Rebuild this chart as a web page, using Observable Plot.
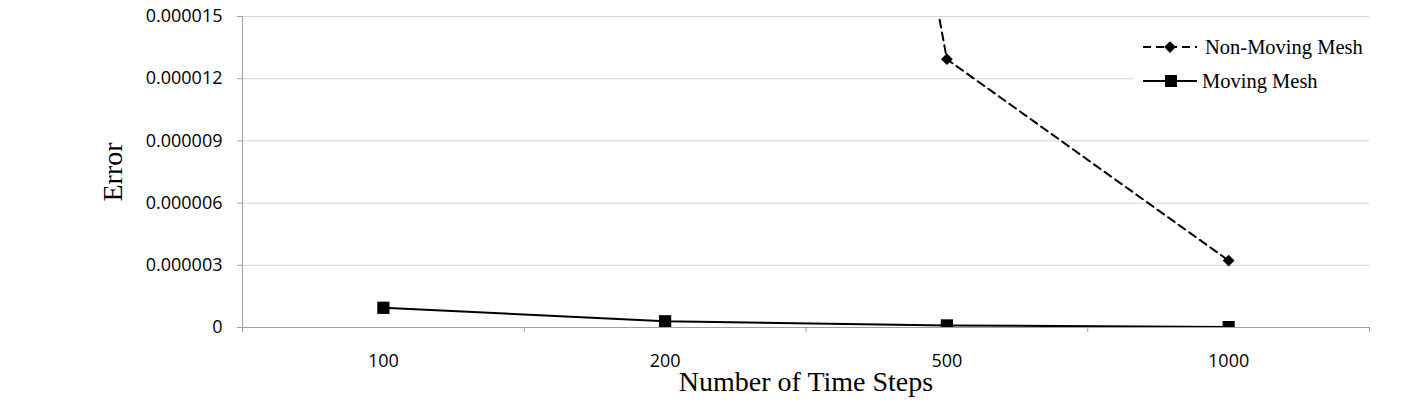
<!DOCTYPE html>
<html>
<head>
<meta charset="utf-8">
<script src="https://cdn.jsdelivr.net/npm/d3@7"></script>
<script src="https://cdn.jsdelivr.net/npm/@observablehq/plot@0.6"></script>
<style>
  html, body { margin: 0; padding: 0; background: #fff; }
  #wrap { position: relative; width: 1425px; height: 404px; }
  #legend { position: absolute; left: 1133px; top: 26px; width: 236px; height: 76px; background: #fff; }
  #legend .item { position: absolute; left: 0; height: 24px; display: flex; align-items: center;
    font-family: "Liberation Serif", "Times New Roman", serif; font-size: 20.5px; color: #000; white-space: nowrap; }
</style>
</head>
<body>
<div id="wrap"></div>
<script>
// ---- data ----
const categories = ["100", "200", "500", "1000"];
const movingMeshCats = ["100", "200", "500", "1000"];
const movingMesh = [0.00000095, 0.00000030, 0.00000010, 0.00000002];
const nonMovingCats = ["200", "500", "1000"];
const nonMovingMesh = [0.000087, 0.00001294, 0.00000323];
const yTicks = [0, 0.000003, 0.000006, 0.000009, 0.000012, 0.000015];
const seriesNames = ["Non-Moving Mesh", "Moving Mesh"];

const moving = movingMeshCats.map((c, i) => ({ x: categories.indexOf(c), y: movingMesh[i] }));
const nonMoving = nonMovingCats.map((c, i) => ({ x: categories.indexOf(c), y: nonMovingMesh[i] }));
const centers = categories.map((c, i) => i);
const boundaries = [...categories.map((c, i) => i - 0.5), categories.length - 0.5];

const axisGray = "#a0a0a0";
const gridGray = "#d4d4d4";
const tickFont = "'Open Sans', sans-serif";
const serif = "'Liberation Serif', 'Times New Roman', serif";

const chart = Plot.plot({
  width: 1425,
  height: 404,
  marginLeft: 242,
  marginRight: 56,
  marginTop: 16,
  marginBottom: 77,
  style: { background: "#fff", color: "#000" },
  x: { domain: [-0.5, categories.length - 0.5] },
  y: { domain: [0, 0.000015] },
  marks: [
    Plot.gridY(yTicks, { stroke: gridGray, strokeOpacity: 1 }),
    Plot.ruleY([0], { stroke: axisGray }),
    Plot.ruleX([-0.5], { stroke: axisGray }),
    Plot.axisY(yTicks, {
      tickSize: 5, tickPadding: 15, stroke: axisGray, label: null,
      tickFormat: d => d === 0 ? "0" : d.toFixed(6),
      fontSize: 18, fontFamily: tickFont, fill: "#000"
    }),
    Plot.axisX(boundaries, { tickSize: 5, stroke: axisGray, tickFormat: () => "", label: null }),
    Plot.axisX(centers, {
      tickSize: 0, tickPadding: 27, label: null,
      tickFormat: i => categories[i], fontSize: 18, fontFamily: tickFont, fill: "#000"
    }),
    Plot.line(moving, { x: "x", y: "y", stroke: "#000", strokeWidth: 2, clip: true }),
    Plot.dot(moving, { x: "x", y: "y", symbol: "square", r: 6.9, fill: "#000", stroke: "none", clip: true }),
    Plot.line(nonMoving, { x: "x", y: "y", stroke: "#000", strokeWidth: 2, strokeDasharray: "8,5", clip: true }),
    Plot.dot(nonMoving, { x: "x", y: "y", symbol: "diamond2", r: 5.3, fill: "#000", stroke: "none", clip: true }),
    Plot.text(["Error"], {
      frameAnchor: "left", textAnchor: "middle", lineAnchor: "middle", rotate: -90, dx: -129,
      fontSize: 28, fontFamily: serif, fill: "#000"
    }),
    Plot.text(["Number of Time Steps"], {
      frameAnchor: "bottom", textAnchor: "middle", lineAnchor: "middle", dy: 55,
      fontSize: 28, fontFamily: serif, fill: "#000"
    })
  ]
});

const wrap = document.getElementById("wrap");
wrap.appendChild(chart);

// legend overlay
const legend = document.createElement("div");
legend.id = "legend";
legend.innerHTML = `
  <div class="item" style="top:9px;">
    <svg width="72" height="24" style="margin-left:10px;">
      <line x1="0" y1="12" x2="54" y2="12" stroke="#000" stroke-width="2" stroke-dasharray="8,5"/>
      <path d="${d3.symbol(d3.symbolDiamond2, 88)()}" transform="translate(27,12)" fill="#000"/>
    </svg><span style="margin-left:-10px">${seriesNames[0]}</span>
  </div>
  <div class="item" style="top:43px;">
    <svg width="69" height="24" style="margin-left:10px;">
      <line x1="0" y1="12" x2="54" y2="12" stroke="#000" stroke-width="2"/>
      <path d="${d3.symbol(d3.symbolSquare, 144)()}" transform="translate(28,12)" fill="#000"/>
    </svg><span style="margin-left:-10px">${seriesNames[1]}</span>
  </div>`;
wrap.appendChild(legend);
</script>
</body>
</html>
